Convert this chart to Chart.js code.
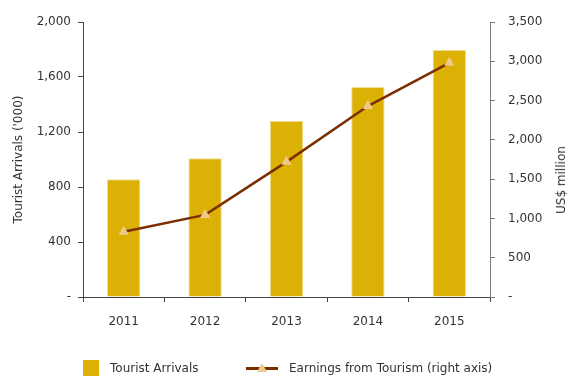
<!DOCTYPE html>
<html>
<head>
<meta charset="utf-8">
<script src="https://cdn.jsdelivr.net/npm/chart.js@4"></script>
<style>
  html, body { margin: 0; padding: 0; background: #fff; }
  #wrap { position: relative; width: 568px; height: 376px; overflow: hidden; font-family: "DejaVu Sans", sans-serif; color: #333; }
  #c { position: absolute; left: 0; top: 0; }
  .ytitle-right { position: absolute; left: 561px; top: 180px; transform: translate(-50%, -50%) rotate(-90deg); font-size: 12px; white-space: nowrap; }
  .legend { position: absolute; top: 360px; left: 0; width: 568px; height: 16px; font-size: 12px; }
  .legend .sq { position: absolute; left: 83px; top: 0; width: 16px; height: 16px; background: #dcb105; }
  .legend .ln { position: absolute; left: 246px; top: 7px; width: 32px; height: 3px; background: #7b2e00; }
  .legend .tri { position: absolute; left: 257px; top: 3px; width: 0; height: 0; border-left: 5px solid transparent; border-right: 5px solid transparent; border-bottom: 9px solid #eec98b; }
  .legend span.t { position: absolute; top: 1px; line-height: 14px; }
</style>
</head>
<body>
<div id="wrap">
  <canvas id="c" width="568" height="376"></canvas>
  <div class="ytitle-right">US$ million</div>
  <div class="legend">
    <div class="sq"></div><span class="t" style="left:110px">Tourist Arrivals</span>
    <div class="ln"></div><div class="tri"></div><span class="t" style="left:289px">Earnings from Tourism (right axis)</span>
  </div>
</div>
<script>
// 연도별 관광객 수('000)와 관광 수입(US$ million)
const years = ['2011', '2012', '2013', '2014', '2015'];
const arrivals = [856, 1010, 1280, 1527, 1796];
const earnings = [830, 1045, 1720, 2430, 2980];

const leftTicks = [0, 400, 800, 1200, 1600, 2000];
const rightTicks = [0, 500, 1000, 1500, 2000, 2500, 3000, 3500];

const fmt = v => v === 0 ? '-' : v.toLocaleString('en-US');
const textColor = '#333';
const font = { family: '"DejaVu Sans", sans-serif', size: 12 };

new Chart(document.getElementById('c'), {
    type: 'bar',
    data: {
        labels: years,
        datasets: [
            {
                type: 'line',
                label: 'Earnings from Tourism (right axis)',
                data: earnings,
                yAxisID: 'y1',
                borderColor: '#7b2e00',
                borderWidth: 2.5,
                pointStyle: 'triangle',
                pointRadius: 6,
                pointBackgroundColor: '#eec98b',
                pointBorderColor: '#eec98b',
                pointBorderWidth: 0,
                tension: 0,
                order: 0
            },
            {
                label: 'Tourist Arrivals',
                data: arrivals,
                yAxisID: 'y',
                backgroundColor: '#dcb105',
                borderColor: '#f0dc8a',
                borderWidth: 1,
                categoryPercentage: 1,
                barPercentage: 0.41,
                order: 1
            }
        ]
    },
    options: {
        responsive: false,
        animation: false,
        layout: { padding: { top: 22, left: 0, right: 0, bottom: 0 } },
        plugins: { legend: { display: false }, tooltip: { enabled: false } },
        scales: {
            x: {
                grid: { drawOnChartArea: false, drawTicks: true, tickLength: 5, color: '#444', offset: true },
                border: { color: '#444', width: 1 },
                ticks: { color: textColor, font, padding: 13 },
                afterFit: s => { s.height = 79; }
            },
            y: {
                position: 'left',
                min: 0, max: 2000,
                afterBuildTicks: s => { s.ticks = leftTicks.map(v => ({ value: v })); },
                grid: { drawOnChartArea: false, tickLength: 5, color: '#444' },
                border: { color: '#444', width: 1 },
                ticks: { color: textColor, font, padding: 7, callback: fmt },
                title: { display: true, text: "Tourist Arrivals ('000)", color: textColor, font, padding: { top: 12, bottom: 0 } },
                afterFit: s => { s.width = 83; }
            },
            y1: {
                position: 'right',
                min: 0, max: 3500,
                afterBuildTicks: s => { s.ticks = rightTicks.map(v => ({ value: v })); },
                grid: { drawOnChartArea: false, tickLength: 5, color: '#777' },
                border: { color: '#777', width: 1 },
                ticks: { color: textColor, font, padding: 13, callback: fmt },
                afterFit: s => { s.width = 78; }
            }
        }
    }
});
</script>
</body>
</html>
